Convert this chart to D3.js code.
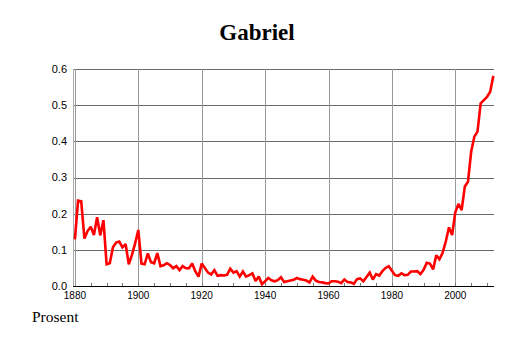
<!DOCTYPE html>
<html><head><meta charset="utf-8">
<script src="https://cdn.jsdelivr.net/npm/d3@7/dist/d3.min.js"></script>
<style>body{margin:0;background:#fff}svg{display:block}</style>
</head><body>
<svg id="chart" width="514" height="343"></svg>
<script>
const title = "Gabriel";
const yLabel = "Prosent";
const firstYear = 1880, lastYear = 2012;
const years = d3.range(firstYear, lastYear + 1);
const values = [
  0.129,0.236,0.234,0.131,0.152,0.164,0.141,0.190,0.140,0.182,
  0.060,0.063,0.107,0.120,0.123,0.107,0.116,0.060,0.086,0.118,
  0.155,0.062,0.060,0.090,0.066,0.063,0.091,0.055,0.057,0.063,
  0.058,0.049,0.055,0.044,0.055,0.049,0.049,0.062,0.040,0.026,
  0.062,0.050,0.037,0.032,0.044,0.028,0.030,0.029,0.031,0.048,
  0.037,0.041,0.026,0.040,0.026,0.030,0.035,0.014,0.026,0.005,
  0.013,0.022,0.016,0.013,0.016,0.024,0.011,0.013,0.015,0.017,
  0.022,0.019,0.017,0.015,0.010,0.026,0.015,0.011,0.010,0.008,
  0.007,0.013,0.013,0.012,0.008,0.018,0.011,0.010,0.006,0.019,
  0.021,0.013,0.025,0.037,0.018,0.033,0.029,0.041,0.050,0.055,
  0.042,0.030,0.028,0.035,0.030,0.031,0.040,0.040,0.041,0.033,
  0.045,0.064,0.062,0.046,0.085,0.074,0.092,0.123,0.162,0.141,
  0.204,0.227,0.210,0.275,0.288,0.371,0.413,0.427,0.505,0.514,
  0.523,0.537,0.581
];
const xMajorTicks = [1880, 1900, 1920, 1940, 1960, 1980, 2000];
const xMinorTicks = d3.range(1885, 2012, 5);
const yTicks = [0.0, 0.1, 0.2, 0.3, 0.4, 0.5, 0.6];

const data = years.map((yr, i) => ({year: yr, value: values[i]}));

const svg = d3.select("#chart");
const pLeft = 73, pRight = 494, pTop = 69, pBottom = 286;

const x = d3.scaleLinear().domain([1900, 2000]).range([138.3, 455.3]);
const y = d3.scaleLinear().domain([0, 0.6]).range([pBottom, pTop]);

// horizontal gridlines
svg.append("g").selectAll("line").data(yTicks).join("line")
  .attr("x1", pLeft).attr("x2", pRight)
  .attr("y1", d => Math.round(y(d)) + 0.5).attr("y2", d => Math.round(y(d)) + 0.5)
  .attr("stroke", "#6a6a6a").attr("stroke-width", 1);

// vertical gridlines
svg.append("g").selectAll("line").data(xMajorTicks).join("line")
  .attr("x1", d => Math.round(x(d)) + 0.5).attr("x2", d => Math.round(x(d)) + 0.5)
  .attr("y1", pTop).attr("y2", pBottom)
  .attr("stroke", "#9a9a9a").attr("stroke-width", 1);

// left border
svg.append("line").attr("x1", pLeft + 0.5).attr("x2", pLeft + 0.5)
  .attr("y1", pTop).attr("y2", pBottom).attr("stroke", "#aaa");

// bottom axis
svg.append("line").attr("x1", pLeft).attr("x2", pRight)
  .attr("y1", pBottom + 0.5).attr("y2", pBottom + 0.5).attr("stroke", "#000");

// minor ticks
svg.append("g").selectAll("line").data(xMinorTicks).join("line")
  .attr("x1", d => Math.round(x(d)) + 0.5).attr("x2", d => Math.round(x(d)) + 0.5)
  .attr("y1", pBottom - 3).attr("y2", pBottom)
  .attr("stroke", "#777");

// y labels
svg.append("g").selectAll("text").data(yTicks).join("text")
  .attr("x", 67).attr("y", d => y(d)).attr("dy", "0.35em")
  .attr("text-anchor", "end")
  .attr("font-family", "Liberation Sans, Arial, sans-serif").attr("font-size", 11)
  .text(d => d.toFixed(1));

// x labels
svg.append("g").selectAll("text").data(xMajorTicks).join("text")
  .attr("x", d => x(d)).attr("y", pBottom + 13)
  .attr("text-anchor", "middle")
  .attr("font-family", "Liberation Sans, Arial, sans-serif").attr("font-size", 10)
  .text(d => d);

// line
const line = d3.line().x(d => x(d.year)).y(d => y(d.value));
svg.append("path").datum(data)
  .attr("d", line).attr("fill", "none")
  .attr("stroke", "#ff0000").attr("stroke-width", 2.6)
  .attr("stroke-linejoin", "miter").attr("stroke-miterlimit", 2);

// title
svg.append("text").attr("x", 257).attr("y", 40)
  .attr("text-anchor", "middle")
  .attr("font-family", "Liberation Serif, Times New Roman, serif")
  .attr("font-weight", "bold").attr("font-size", 23)
  .text(title);

// y axis label
svg.append("text").attr("x", 32).attr("y", 322)
  .attr("font-family", "Liberation Serif, Times New Roman, serif")
  .attr("font-size", 15.5)
  .text(yLabel);
</script>
</body></html>
